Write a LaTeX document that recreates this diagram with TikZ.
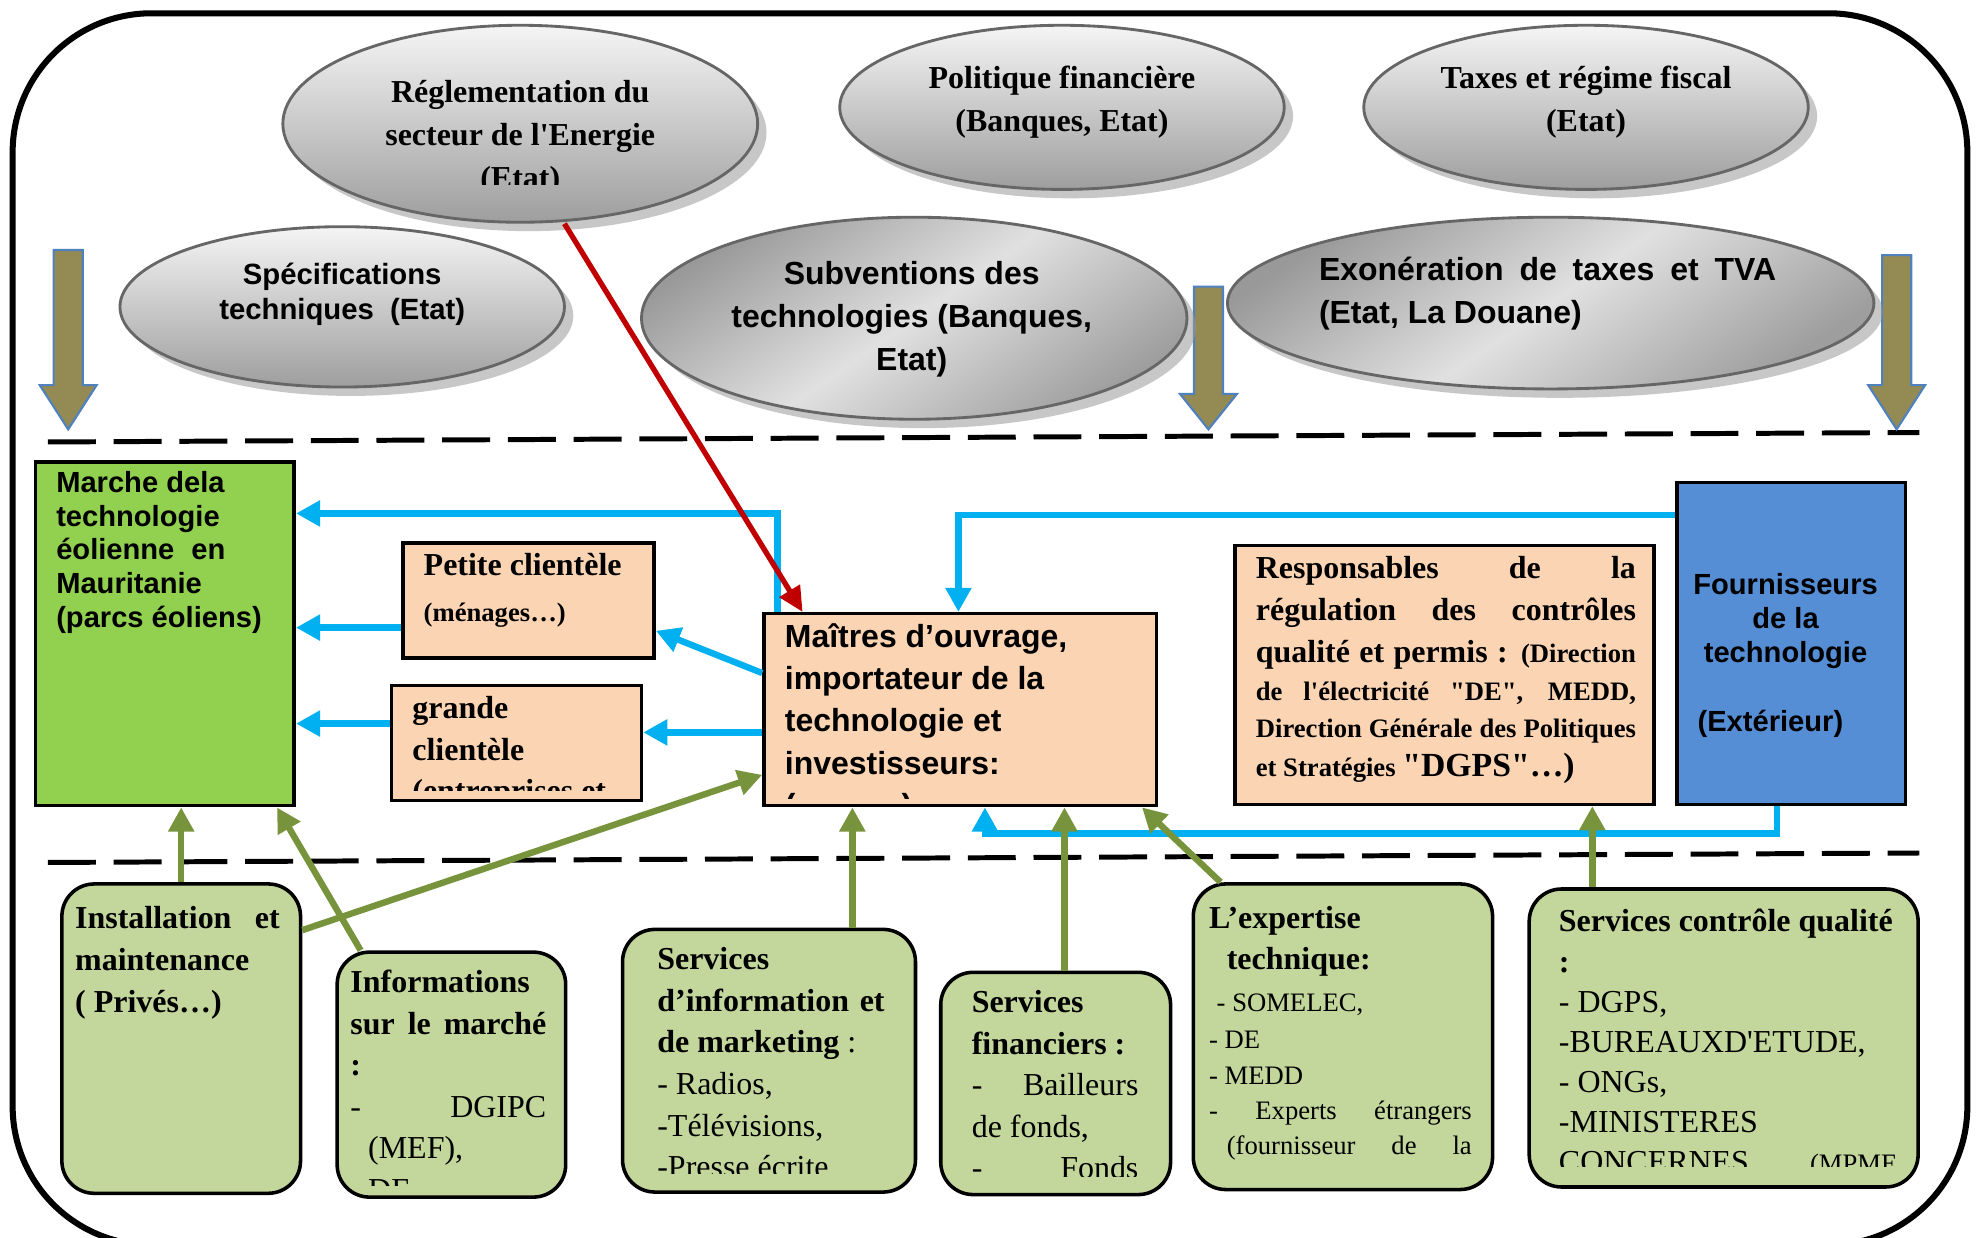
\documentclass[tikz,border=0pt]{standalone}
\usepackage{fontspec}
\setmainfont{Liberation Serif}
\newfontfamily\sansfam{Liberation Sans}
\usetikzlibrary{shapes.geometric,arrows.meta,shadows}

% straight quotes (fonts loaded without the TeX quote mapping)
\font\apsB="Liberation Serif/B" at 9pt
\font\apsS="Liberation Serif/B" at 7.5pt
\font\apsL="Liberation Serif/B" at 9.5pt
\font\apsR="Liberation Serif" at 9pt

\definecolor{peach}{HTML}{FBD4B4}
\definecolor{leaf}{HTML}{92D050}
\definecolor{supblue}{HTML}{558ED5}
\definecolor{sage}{HTML}{C3D69B}
\definecolor{flowcyan}{HTML}{00B0F0}
\definecolor{flowgreen}{HTML}{77933C}
\definecolor{flowred}{HTML}{C00000}
\definecolor{olive}{HTML}{948A54}
\definecolor{oliveedge}{HTML}{4F81BD}

\newlength\unitpx \setlength\unitpx{0.0125cm}

% text helpers
\newcommand\jw[2]{\makebox[#1\unitpx][s]{#2}}
\newcommand\txtblock[2]{\begin{minipage}[t]{#1\unitpx}\raggedright #2\end{minipage}}
\newcommand\ctrblock[2]{\begin{minipage}[t]{#1\unitpx}\centering #2\end{minipage}}
\newcommand\sbf[2]{\sansfam\bfseries\fontsize{#1}{#2}\selectfont}
\newcommand\rbf[2]{\bfseries\fontsize{#1}{#2}\selectfont}

% olive block arrow: centre x, top, start of head, tip
\newcommand\olivedrop[4]{%
  \draw[olivearrow] (#1-11.5,#2) -- (#1+11.5,#2) -- (#1+11.5,#3) -- (#1+22.5,#3)
    -- (#1,#4) -- (#1-22.5,#3) -- (#1-11.5,#3) -- cycle;}

\tikzset{
  ell/.style={ellipse, draw=black!60, line width=0.8pt, inner sep=0pt,
    drop shadow={shadow xshift=2.5pt, shadow yshift=-2.5pt, fill=black!40, opacity=0.55}},
  ellsoft/.style={ell, top color=black!4, bottom color=black!38},
  elldeep/.style={ell, top color=black!40, bottom color=black!38, middle color=black!12, shading angle=35},
  sq/.style={rectangle, draw=black, line width=1pt, inner sep=0pt},
  peachbox/.style={sq, fill=peach},
  card/.style={rectangle, rounded corners=0.32cm, draw=black, line width=1pt, fill=sage, inner sep=0pt},
  txt/.style={inner sep=0pt, anchor=base west},
  ctxt/.style={inner sep=0pt, anchor=base},
  bluearr/.style={draw=flowcyan, line width=1.8pt, -{Triangle[length=6.8pt,width=7pt]}},
  greenarr/.style={draw=flowgreen, line width=1.8pt, -{Triangle[length=6.8pt,width=7pt]}},
  redarr/.style={draw=flowred, line width=1.5pt, -{Triangle[length=7pt,width=6.5pt]}},
  olivearrow/.style={fill=olive, draw=oliveedge, line width=0.6pt},
  band/.style={line width=1.4pt, dash pattern=on 13.5pt off 5pt},
}

\begin{document}
\begin{tikzpicture}[x=0.0125cm, y=-0.0125cm]
\clip (0,0) rectangle (1568,980);
\fill[white] (0,0) rectangle (1568,980);

% outer frame
\draw[line width=1.7pt, rounded corners=1.375cm] (10,10.5) rectangle (1558,986);

% separating dashed lines
\draw[band] (38,350) -- (1520,342.5);
\draw[band] (38,683) -- (1520,675.5);

% olive block arrows
\olivedrop{54}{198}{305}{340}
\olivedrop{957}{227}{312}{340}
\olivedrop{1502}{202}{305}{340}

% framework ellipses
\node[ellsoft, minimum width=376\unitpx, minimum height=156\unitpx] (reg) at (412,98) {};
\node[ellsoft, minimum width=352\unitpx, minimum height=130\unitpx] (pol) at (841,85) {};
\node[ellsoft, minimum width=352\unitpx, minimum height=130\unitpx] (tax) at (1256,85) {};
\node[ellsoft, minimum width=352\unitpx, minimum height=127\unitpx] (spec) at (271,243) {};
\node[elldeep, minimum width=432\unitpx, minimum height=160\unitpx] (subv) at (724,252) {};
\node[elldeep, minimum width=512\unitpx, minimum height=136\unitpx] (exo) at (1228,240) {};

\begin{scope}
  \clip (200,0) rectangle (620,146);
  \node[ctxt] (reg-t) at (412,81) {\ctrblock{330}{\rbf{9}{12.1}Réglementation du\\secteur de l{\apsB'}Energie\\(Etat)}};
\end{scope}
\node[ctxt] (pol-t) at (841,70) {\ctrblock{300}{\rbf{9}{12.1}Politique financière\\(Banques, Etat)}};
\node[ctxt] (tax-t) at (1256,70) {\ctrblock{300}{\rbf{9}{12.1}Taxes et régime fiscal\\(Etat)}};
\node[ctxt] (spec-t) at (271,225) {\ctrblock{300}{\sbf{8.25}{10}Spécifications\\techniques~ (Etat)}};
\node[ctxt] (subv-t) at (722,225) {\ctrblock{340}{\sbf{9}{12.1}Subventions des\\technologies (Banques,\\Etat)}};
\node[txt] (exo-t) at (1044,222) {\txtblock{380}{\sbf{9}{12.1}\jw{362}{Exonération de taxes et TVA}\\(Etat, La Douane)}};

% market band
\node[sq, fill=leaf, minimum width=205\unitpx, minimum height=272\unitpx] (marche) at (130.5,502) {};
\node[peachbox, minimum width=199\unitpx, minimum height=91\unitpx] (petite) at (418.5,475.5) {};
\node[peachbox, minimum width=198\unitpx, minimum height=91\unitpx] (grande) at (409,588.5) {};
\node[peachbox, minimum width=311\unitpx, minimum height=152\unitpx] (maitres) at (760.5,562) {};
\node[peachbox, minimum width=332\unitpx, minimum height=205\unitpx] (resp) at (1144,534.5) {};
\node[sq, fill=supblue, minimum width=181\unitpx, minimum height=255\unitpx] (fourn) at (1418.5,509.5) {};

% support services
\node[card, minimum width=189\unitpx, minimum height=245\unitpx] (inst) at (143.5,822.5) {};
\node[card, minimum width=181\unitpx, minimum height=194\unitpx] (info) at (357.5,851) {};
\node[card, minimum width=232\unitpx, minimum height=208\unitpx] (serv) at (609,840) {};
\node[card, minimum width=182\unitpx, minimum height=176\unitpx] (fin) at (836,858) {};
\node[card, minimum width=237\unitpx, minimum height=242\unitpx] (exp) at (1063.5,821) {};
\node[card, minimum width=308\unitpx, minimum height=236\unitpx] (ctrl) at (1365,822) {};

% market band texts
\node[txt] (marche-t) at (44,390) {\txtblock{180}{\sbf{8.2}{9.5}Marche dela\\technologie\\\jw{134}{éolienne en}\\Mauritanie\\(parcs éoliens)}};
\node[txt] (petite-t) at (335,456) {\txtblock{180}{\rbf{9}{12.8}Petite clientèle\\\fontsize{7.5}{12.8}\selectfont(ménages…)}};
\begin{scope}
  \clip (311,544) rectangle (507,626);
  \node[txt] (grande-t) at (326,569) {\txtblock{180}{\rbf{9}{11.7}grande\\clientèle\\(entreprises et}};
\end{scope}
\begin{scope}
  \clip (606,487) rectangle (915,632);
  \node[txt] (maitres-t) at (621,513) {\txtblock{290}{\sbf{9}{11.85}Maîtres d’ouvrage,\\importateur de la\\technologie et\\investisseurs:\\(\hspace*{84\unitpx})}};
\end{scope}
\node[txt] (resp-t) at (994,458) {\txtblock{310}{\rbf{9}{11.9}\jw{301}{Responsables de la}\\\jw{301}{régulation des contrôles}\\\jw{301}{qualité et permis : {\fontsize{7.5}{11.9}\selectfont(Direction}}\\[-1.25pt]\fontsize{7.5}{11.9}\selectfont\jw{301}{de l{\apsS'}électricité {\apsS"}DE{\apsS"}, MEDD,}\\[-1.6pt]\jw{301}{Direction Générale des Politiques}\\[-0.9pt]et Stratégies {\apsL"DGPS"}{\fontsize{9.5}{11.9}\selectfont…)}}};
\node[ctxt] (fourn-t) at (1414,471) {\ctrblock{175}{\sbf{8.2}{9.6}Fournisseurs\\de la\\technologie\\[9.6pt](Extérieur)\hspace*{24\unitpx}}};

% support service texts
\node[txt] (inst-t) at (59,735) {\txtblock{175}{\rbf{9}{11.9}\jw{162}{Installation et}\\maintenance\\( Privés…)}};
\begin{scope}
  \clip (268,755) rectangle (447,939);
  \node[txt] (info-t) at (277,786) {\txtblock{165}{\rbf{9}{11.7}Informations\\\jw{155}{sur le marché}\\:\\\mdseries\jw{155}{- DGIPC}\\\hspace*{14\unitpx}(MEF),\\\hspace*{14\unitpx}DE}};
\end{scope}
\begin{scope}
  \clip (494,737) rectangle (724,929);
  \node[txt] (serv-t) at (520,768) {\txtblock{195}{\rbf{9}{11.7}Services\\\jw{180}{d’information et}\\de marketing {\mdseries :}\\\mdseries - Radios,\\-Télévisions,\\-Presse écrite}};
\end{scope}
\begin{scope}
  \clip (746,771) rectangle (926,932);
  \node[txt] (fin-t) at (769,802) {\txtblock{150}{\rbf{9}{11.7}Services\\financiers :\\\mdseries\jw{132}{- Bailleurs}\\de fonds,\\\jw{132}{- Fonds}}};
\end{scope}
\begin{scope}
  \clip (946,701) rectangle (1181,922);
  \node[txt] (exp-t) at (957,735) {\txtblock{215}{\rbf{9}{11.7}L’expertise\\\hspace*{14\unitpx}technique:\\\mdseries\fontsize{7.5}{11.7}\selectfont\hspace*{6\unitpx}- SOMELEC,\\[-1.07pt]- DE\\[-1.8pt]- MEDD\\[-1.8pt]\jw{208}{- Experts étrangers}\\[-1.8pt]\hspace*{14\unitpx}\jw{194}{(fournisseur de la}}};
\end{scope}
\begin{scope}
  \clip (1212,705) rectangle (1518,924);
  \node[txt] (ctrl-t) at (1234,738) {\txtblock{275}{\rbf{9}{11.3}Services contrôle qualité\\:\\\mdseries - DGPS,\\-BUREAUXD{\apsR'}ETUDE,\\- ONGs,\\-MINISTERES\\\jw{268}{CONCERNES {\fontsize{7.5}{11.3}\selectfont(MPME}}}};
\end{scope}

% flows of technology (blue)
\draw[bluearr] ([xshift=12\unitpx]maitres.north west) |- ([yshift=-42\unitpx]marche.north east);
\draw[bluearr] ([yshift=29\unitpx]maitres.west) -- ([yshift=-24\unitpx]petite.east);
\coordinate (b3) at (300,497);
\draw[bluearr] (b3 -| petite.west) -- (b3 -| marche.east);
\coordinate (b4) at (560,580);
\draw[bluearr] (b4 -| maitres.west) -- (b4 -| grande.east);
\coordinate (b5) at (270,573);
\draw[bluearr] (b5 -| grande.west) -- (b5 -| marche.east);
\coordinate (b6) at (759,408);
\draw[bluearr] (b6 -| fourn.west) -| (b6 |- maitres.north);
\coordinate (b7a) at (1407,660);
\coordinate (b7b) at (780,660);
\draw[bluearr] (b7a |- fourn.south) -- (b7a) -- (b7b) -- (b7b |- maitres.south);

% regulation (red)
\draw[redarr] ([xshift=35\unitpx]reg.south) -- ([xshift=32\unitpx]maitres.north west);

% support (green)
\draw[greenarr] (inst.north) -- (inst.north |- marche.south);
\draw[greenarr] ([xshift=20\unitpx]info.north west) -- ([xshift=-15\unitpx]marche.south east);
\draw[greenarr] ([yshift=-38\unitpx]inst.north east) -- ([yshift=-129\unitpx]maitres.north west);
\coordinate (g4) at (675,700);
\draw[greenarr] (g4 |- serv.north) -- (g4 |- maitres.south);
\coordinate (g5) at (843,700);
\draw[greenarr] (g5 |- fin.north) -- (g5 |- maitres.south);
\draw[greenarr] ([xshift=23\unitpx]exp.north west) -- ([xshift=-13\unitpx]maitres.south east);
\coordinate (g7) at (1261,700);
\draw[greenarr] (g7 |- ctrl.north) -- (g7 |- resp.south);
\end{tikzpicture}
\end{document}
